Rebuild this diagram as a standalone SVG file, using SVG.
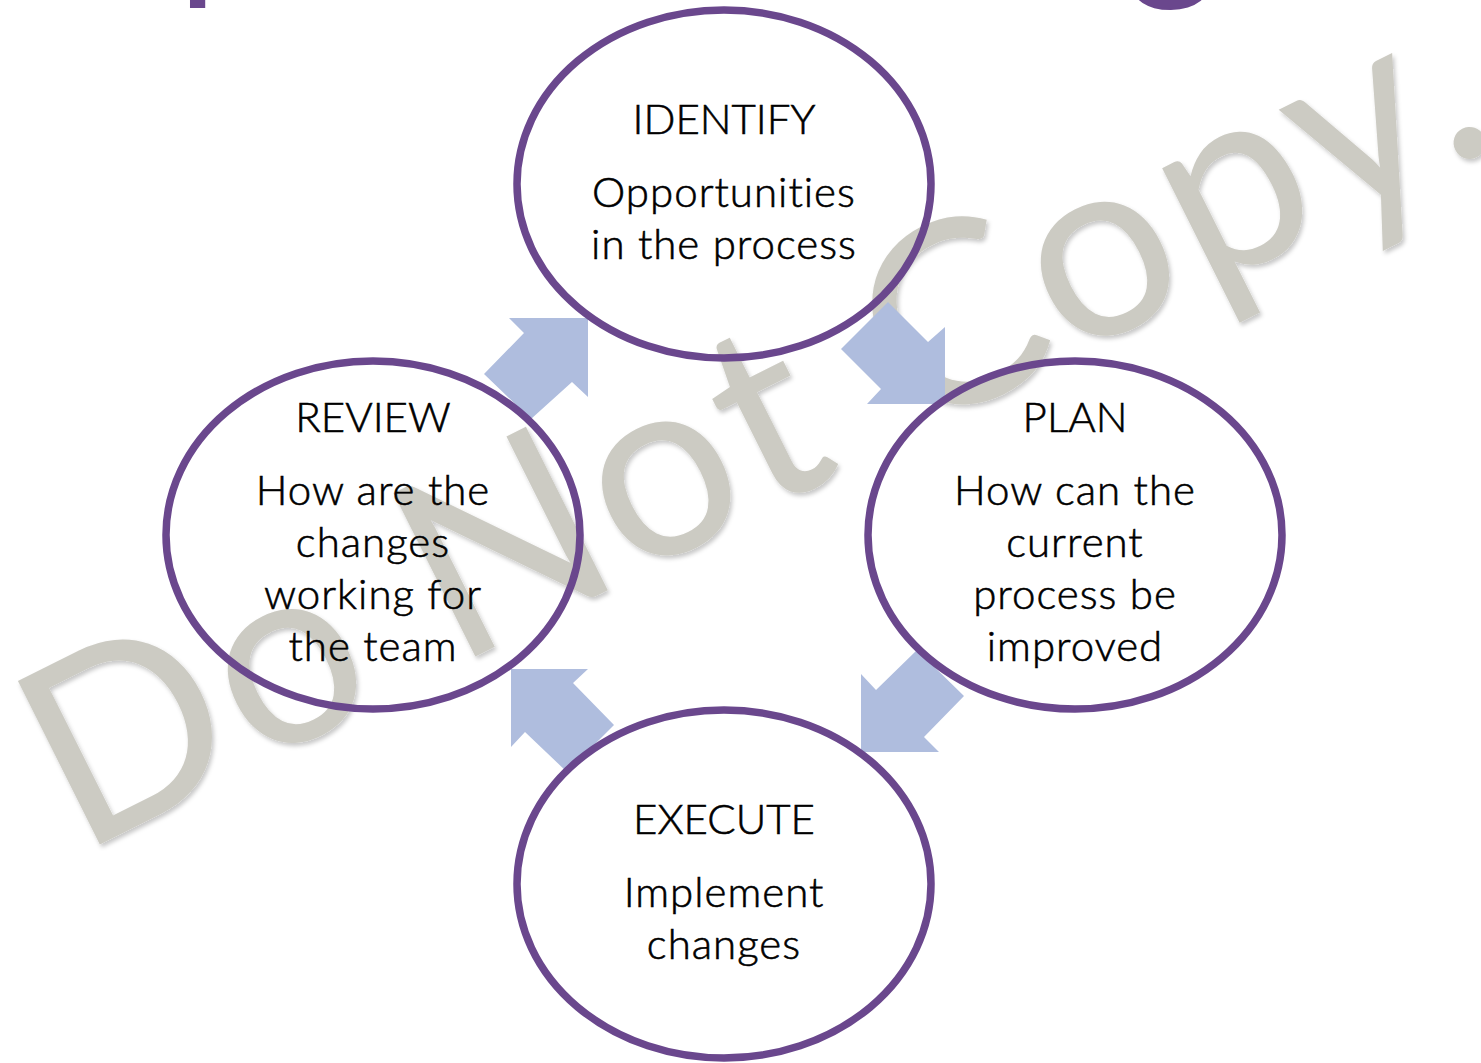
<svg xmlns="http://www.w3.org/2000/svg" width="1481" height="1063" viewBox="0 0 1481 1063">
  <defs>
    <filter id="softShadow" x="-5%" y="-5%" width="110%" height="110%">
      <feDropShadow dx="2" dy="3" stdDeviation="2" flood-color="#000000" flood-opacity="0.22"/>
    </filter>
    <style>
      .stage { fill: none; stroke: #6A478D; stroke-width: 7.5; }
      .flow { fill: #AFBDDE; stroke: none; }
      .title { font-family: Lato, "Liberation Sans", sans-serif; font-size: 42px; font-weight: 300; fill: #000000; stroke: #000000; stroke-width: 0.6; text-anchor: middle; font-variant-ligatures: none; }
      .body { font-family: Lato, "Liberation Sans", sans-serif; font-size: 42px; font-weight: 300; fill: #000000; stroke: #000000; stroke-width: 0.6; text-anchor: middle; letter-spacing: 1px; font-variant-ligatures: none; }
      .heading { font-family: Lato, "Liberation Sans", sans-serif; font-size: 170px; fill: #6A478D; }
      .mark { font-family: Lato, "Liberation Sans", sans-serif; font-size: 255px; fill: #CCCBC3; letter-spacing: 6px; }
    </style>
  </defs>

  <rect width="1481" height="1063" fill="#FFFFFF"/>

  <!-- slide heading, mostly above the visible area -->
  <g id="heading">
    <text class="heading" x="178" y="-21">p</text>
    <text class="heading" x="1128" y="-21">g</text>
  </g>

  <!-- watermark -->
  <g id="watermark" filter="url(#softShadow)">
    <text class="mark" x="79" y="855" transform="rotate(-26.6 79 855)">Do Not Copy.</text>
  </g>

  <!-- cycle arrows -->
  <g id="connectors">
    <polygon class="flow" points="588,318 588,397 572,382 531,419 484,374 524,333 509,318"/>
    <polygon class="flow" points="945,404 867,404 881,389 841,349 888,302 928,342 945,327"/>
    <polygon class="flow" points="861,752 861,674 876,690 917,650 964,696 924,737 939,752"/>
    <polygon class="flow" points="511,669 588,669 573,683 614,725 567,772 525,732 511,747"/>
  </g>

  <g id="identify">
    <ellipse class="stage" cx="724" cy="184" rx="207" ry="174"/>
    <text class="title" x="724" y="134">IDENTIFY</text>
    <text class="body" x="724" y="207">Opportunities</text>
    <text class="body" x="724" y="259">in the process</text>
  </g>

  <g id="plan">
    <ellipse class="stage" cx="1075" cy="535" rx="207" ry="174"/>
    <text class="title" x="1075" y="432">PLAN</text>
    <text class="body" x="1075" y="505">How can the</text>
    <text class="body" x="1075" y="557">current</text>
    <text class="body" x="1075" y="609">process be</text>
    <text class="body" x="1075" y="661">improved</text>
  </g>

  <g id="execute">
    <ellipse class="stage" cx="724" cy="884" rx="207" ry="174"/>
    <text class="title" x="724" y="834">EXECUTE</text>
    <text class="body" x="724" y="907">Implement</text>
    <text class="body" x="724" y="959">changes</text>
  </g>

  <g id="review">
    <ellipse class="stage" cx="373" cy="535" rx="207" ry="174"/>
    <text class="title" x="373" y="432">REVIEW</text>
    <text class="body" x="373" y="505">How are the</text>
    <text class="body" x="373" y="557">changes</text>
    <text class="body" x="373" y="609">working for</text>
    <text class="body" x="373" y="661">the team</text>
  </g>
</svg>
